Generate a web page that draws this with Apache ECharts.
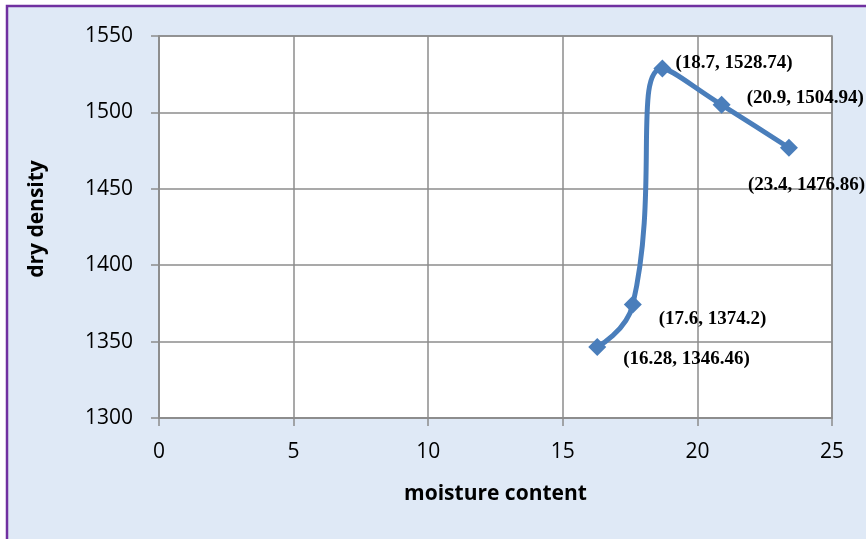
<!DOCTYPE html>
<html>
<head>
<meta charset="utf-8">
<script src="https://cdn.jsdelivr.net/npm/echarts@6/dist/echarts.min.js"></script>
<style>
  html, body { margin: 0; padding: 0; background: #ffffff; }
  #chart { width: 866px; height: 539px; }
</style>
</head>
<body>
<div id="chart"></div>
<script>
// Compaction test: moisture content vs dry density
const moisture = [16.28, 17.6, 18.7, 20.9, 23.4];
const dryDensity = [1346.46, 1374.2, 1528.74, 1504.94, 1476.86];
const xTicks = [0, 5, 10, 15, 20, 25];
const yTicks = [1300, 1350, 1400, 1450, 1500, 1550];

// where each point's "(x, y)" label sits relative to its marker
const labelOffsets = [[26, 12], [26, 14], [13, -5], [25, -7], [-41, 37]];

const points = moisture.map((m, i) => ({
  value: [m, dryDensity[i]],
  label: { offset: labelOffsets[i] }
}));

const chart = echarts.init(document.getElementById('chart'));
const axisGray = '#8c8c8c';

chart.setOption({
  backgroundColor: '#ffffff',
  animation: false,
  graphic: [{
    type: 'rect',
    z: -10,
    silent: true,
    shape: { x: 7, y: 6, width: 900, height: 600 },
    style: { fill: '#dfe9f6', stroke: '#7030a0', lineWidth: 2.5 }
  }],
  grid: { left: 159, right: 34, top: 36, bottom: 121, show: true,
          backgroundColor: '#ffffff', borderColor: axisGray, borderWidth: 1.5 },
  xAxis: {
    type: 'value',
    min: xTicks[0], max: xTicks[xTicks.length - 1], interval: 5,
    name: 'moisture content', nameLocation: 'middle', nameGap: 66,
    nameTextStyle: { fontFamily: 'Open Sans', fontWeight: 'bold', fontSize: 21, color: '#000' },
    axisLine: { show: true, lineStyle: { color: axisGray, width: 1.5 } },
    axisTick: { show: true, length: 8, inside: false, lineStyle: { color: axisGray, width: 1.5 } },
    axisLabel: { color: '#000', fontFamily: 'Open Sans', fontSize: 21, margin: 24,
                 formatter: v => String(v) },
    splitLine: { show: true, lineStyle: { color: axisGray, width: 1.5 } }
  },
  yAxis: {
    type: 'value',
    min: yTicks[0], max: yTicks[yTicks.length - 1], interval: 50,
    name: 'dry density', nameLocation: 'middle', nameGap: 111,
    nameTextStyle: { fontFamily: 'Open Sans', fontWeight: 'bold', fontSize: 21, color: '#000',
                     padding: [0, 0, 0, 16] },
    axisLine: { show: true, lineStyle: { color: axisGray, width: 1.5 } },
    axisTick: { show: true, length: 8, inside: false, lineStyle: { color: axisGray, width: 1.5 } },
    axisLabel: { color: '#000', fontFamily: 'Open Sans', fontSize: 21, margin: 26,
                 formatter: v => String(v) },
    splitLine: { show: true, lineStyle: { color: axisGray, width: 1.5 } }
  },
  series: [{
    type: 'line',
    data: points,
    smooth: 0.5,
    symbol: 'diamond',
    symbolSize: 18,
    lineStyle: { color: '#4a7ebb', width: 5 },
    itemStyle: { color: '#4a7ebb' },
    label: {
      show: true,
      position: 'inside',
      align: 'left',
      verticalAlign: 'middle',
      fontFamily: 'Liberation Serif',
      fontWeight: 'bold',
      fontSize: 19,
      color: '#000',
      formatter: p => '(' + p.value[0] + ', ' + p.value[1] + ')'
    }
  }]
});
</script>
</body>
</html>
